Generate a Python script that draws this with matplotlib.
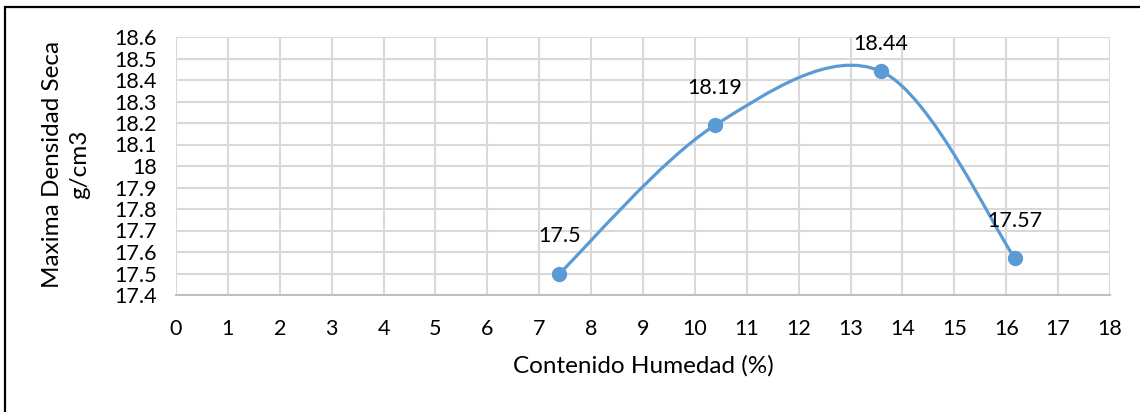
import matplotlib
matplotlib.use("Agg")
import matplotlib.pyplot as plt
from matplotlib.path import Path
from matplotlib.patches import PathPatch, Rectangle
import numpy as np

plt.rcParams['font.family'] = ['Lato', 'DejaVu Sans']

humedad = [7.39, 10.39, 13.59, 16.17]
densidad = [17.5, 18.19, 18.44, 17.57]
etiquetas = ["17.5", "18.19", "18.44", "17.57"]
x_ticks = list(range(0, 19))
y_ticks = [17.4, 17.5, 17.6, 17.7, 17.8, 17.9, 18.0, 18.1, 18.2, 18.3, 18.4, 18.5, 18.6]
y_tick_labels = ["17.4", "17.5", "17.6", "17.7", "17.8", "17.9", "18", "18.1",
                 "18.2", "18.3", "18.4", "18.5", "18.6"]

blue = "#5B9BD5"
grid_c = "#D9D9D9"
txt_c = "#000000"

fig = plt.figure(figsize=(11.4, 4.12), dpi=100)
fig.patches.append(Rectangle((5/1140, -0.2), 1.5, 1.2 - 7/412, transform=fig.transFigure,
                             fill=False, edgecolor="black", linewidth=1.6, zorder=0))

ax = fig.add_axes([176/1140, 1 - 295/412, (1110 - 176)/1140, (295 - 37)/412])
ax.set_xlim(0, 18)
ax.set_ylim(17.4, 18.6)
ax.set_xticks(x_ticks)
ax.set_yticks(y_ticks)
ax.set_yticklabels(y_tick_labels)
ax.tick_params(length=0, labelsize=15.5, colors=txt_c)
ax.tick_params(axis='x', pad=17)
ax.tick_params(axis='y', pad=14)
ax.grid(True, color=grid_c, linewidth=1.5)
ax.set_axisbelow(True)
for s in ['top', 'right', 'left']:
    ax.spines[s].set_visible(False)
ax.spines['bottom'].set_color("#BFBFBF")
ax.spines['bottom'].set_linewidth(1.5)

# Smooth (Catmull-Rom style Bezier, as Excel smoothing)
pts = np.column_stack([humedad, densidad])
n = len(pts)
verts = [tuple(pts[0])]
codes = [Path.MOVETO]
for i in range(n - 1):
    p0 = pts[i - 1] if i > 0 else pts[i]
    p1 = pts[i]
    p2 = pts[i + 1]
    p3 = pts[i + 2] if i + 2 < n else pts[i + 1]
    c1 = p1 + (p2 - p0) / 6.0
    c2 = p2 - (p3 - p1) / 6.0
    verts += [tuple(c1), tuple(c2), tuple(p2)]
    codes += [Path.CURVE4] * 3
ax.add_patch(PathPatch(Path(verts, codes), facecolor='none', edgecolor=blue,
                       linewidth=2.3, capstyle='round', zorder=3))
ax.plot(humedad, densidad, linestyle='none', marker='o', markersize=10,
        color=blue, zorder=4)

offsets = [27, 27, 20, 27]
for x, y, lab, off in zip(humedad, densidad, etiquetas, offsets):
    ax.annotate(lab, (x, y), xytext=(0, off), textcoords='offset points',
                ha='center', va='center', fontsize=15.5, color=txt_c, zorder=5,
                annotation_clip=False)

fig.text(643/1140, 1 - 366/412, "Contenido Humedad (%)", fontsize=17.5, color=txt_c,
         ha='center', va='center')
fig.text(66/1140, 1 - 164/412, "Maxima Densidad Seca\ng/cm3", fontsize=17.5,
         color=txt_c, ha='center', va='center', rotation=90, multialignment='center',
         linespacing=1.35)

fig.savefig("out.png", dpi=100)
